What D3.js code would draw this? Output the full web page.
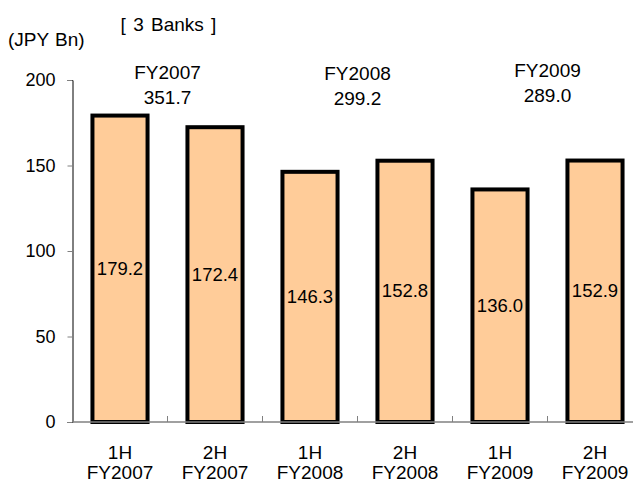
<!DOCTYPE html>
<html>
<head>
<meta charset="utf-8">
<script src="https://cdn.jsdelivr.net/npm/d3@7"></script>
<style>
  body { margin: 0; background: #fff; }
  svg { display: block; font-family: "Liberation Sans", Arial, sans-serif; }
</style>
</head>
<body>
<div id="chart"></div>
<script>
// chart data
const halves = ["1H", "2H", "1H", "2H", "1H", "2H"];
const years = ["FY2007", "FY2007", "FY2008", "FY2008", "FY2009", "FY2009"];
const values = [179.2, 172.4, 146.3, 152.8, 136.0, 152.9];
const fyNames = ["FY2007", "FY2008", "FY2009"];
const fyTotals = ["351.7", "299.2", "289.0"];
const yTicks = [0, 50, 100, 150, 200];

const width = 633, height = 483;

const svg = d3.select("#chart").append("svg")
    .attr("width", width)
    .attr("height", height);

// scales
const x = d3.scaleBand()
    .domain(d3.range(values.length))
    .range([72.5, 642.5])
    .padding(0);

const y = d3.scaleLinear()
    .domain([0, 200])
    .range([422, 80]);

const barW = x.bandwidth() * 0.58;

// y axis
const yAxis = d3.axisLeft(y)
    .tickValues(yTicks)
    .tickSize(5)
    .tickPadding(12);

const yg = svg.append("g")
    .attr("transform", "translate(72.5,0)")
    .call(yAxis);
yg.select(".domain").attr("stroke", "#000").attr("stroke-width", 1);
yg.selectAll(".tick line").attr("stroke", "#808080");
yg.selectAll(".tick text")
    .style("font-size", "18px")
    .attr("fill", "#000");

// bars
svg.append("g")
    .selectAll("rect")
    .data(values)
    .enter()
    .append("rect")
    .attr("x", (d, i) => x(i) + (x.bandwidth() - barW) / 2)
    .attr("y", d => y(d))
    .attr("width", barW)
    .attr("height", d => y(0) - y(d))
    .attr("fill", "#FFCC99")
    .attr("stroke", "#000")
    .attr("stroke-width", 4);

// baseline with small dividers between categories
svg.append("line")
    .attr("x1", 72.5).attr("x2", width)
    .attr("y1", y(0)).attr("y2", y(0))
    .attr("stroke", "#808080")
    .attr("stroke-width", 1.5);

svg.append("g")
    .selectAll("line")
    .data(d3.range(1, values.length))
    .enter()
    .append("line")
    .attr("x1", i => x(i)).attr("x2", i => x(i))
    .attr("y1", y(0)).attr("y2", y(0) - 6)
    .attr("stroke", "#808080");

// value labels inside bars
svg.append("g")
    .selectAll("text")
    .data(values)
    .enter()
    .append("text")
    .attr("x", (d, i) => x(i) + x.bandwidth() / 2)
    .attr("y", d => (y(d) + y(0)) / 2 + 6)
    .attr("text-anchor", "middle")
    .style("font-size", "18.5px")
    .text(d => d.toFixed(1));

// category labels
const cat = svg.append("g")
    .selectAll("text")
    .data(values)
    .enter()
    .append("text")
    .attr("text-anchor", "middle")
    .style("font-size", "19px");
cat.append("tspan")
    .attr("x", (d, i) => x(i) + x.bandwidth() / 2)
    .attr("y", 459)
    .text((d, i) => halves[i]);
cat.append("tspan")
    .attr("x", (d, i) => x(i) + x.bandwidth() / 2)
    .attr("y", 479)
    .text((d, i) => years[i]);

// fiscal year totals above each pair
const nameY = [79, 80, 77];
const fy = svg.append("g")
    .selectAll("text")
    .data(fyNames)
    .enter()
    .append("text")
    .attr("text-anchor", "middle")
    .style("font-size", "19px");
fy.append("tspan")
    .attr("x", (d, i) => x(i * 2 + 1))
    .attr("y", (d, i) => nameY[i])
    .text(d => d);
fy.append("tspan")
    .attr("x", (d, i) => x(i * 2 + 1))
    .attr("y", (d, i) => nameY[i] + 25)
    .text((d, i) => fyTotals[i]);

// titles
svg.append("text")
    .attr("x", 168.5)
    .attr("y", 31)
    .attr("text-anchor", "middle")
    .style("font-size", "19px")
    .style("word-spacing", "2px")
    .text("[ 3 Banks ]");

svg.append("text")
    .attr("x", 8)
    .attr("y", 46)
    .style("font-size", "19px")
    .style("word-spacing", "1px")
    .text("(JPY Bn)");
</script>
</body>
</html>
